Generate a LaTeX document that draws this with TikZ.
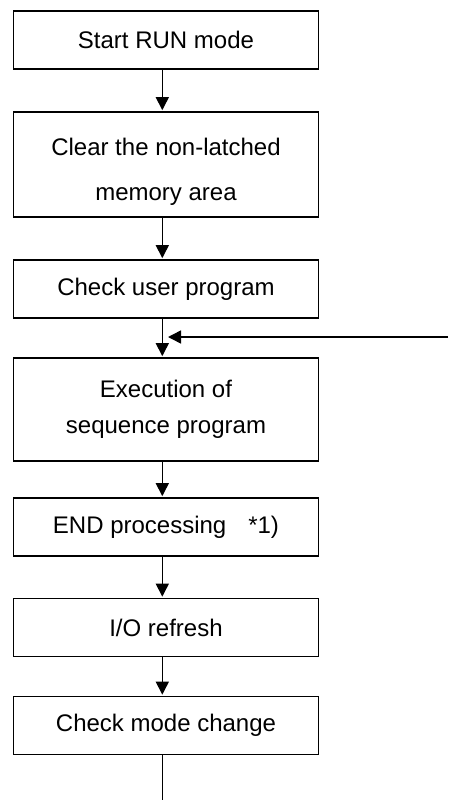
\documentclass[tikz,border=0pt]{standalone}
\usepackage{fontspec}
\setmainfont{Liberation Sans}
\usetikzlibrary{arrows.meta,calc}

\tikzset{
  stepbox/.style={draw, line width=1.7pt, minimum width=305pt, inner sep=0pt,
    align=center, font=\fontsize{24pt}{29pt}\selectfont},
  flow/.style={line width=1.5pt, -{Triangle[length=13pt,width=13pt]}, shorten >=1pt},
  plain/.style={line width=1.5pt}
}

\begin{document}
\begin{tikzpicture}[x=1pt,y=-1pt]
  \useasboundingbox (0,0) rectangle (448,800);

  % process steps
  \node[stepbox, minimum height=58pt]  (run)   at (166,40)    {Start RUN mode};
  \node[stepbox, minimum height=105pt, font=\fontsize{24pt}{45pt}\selectfont]
                                       (clear) at (166,164.5) {\rule{0pt}{31pt}Clear the non-latched\\memory area};
  \node[stepbox, minimum height=58pt]  (check) at (166,289)   {Check user program};
  \node[stepbox, minimum height=103pt, font=\fontsize{24pt}{36pt}\selectfont]
                                       (exec)  at (166,409.5) {Execution of\\sequence program};
  \node[stepbox, minimum height=58pt]  (endp)  at (166,527)   {END processing\hspace{22pt}*1)};
  \node[stepbox, minimum height=58pt]  (io)    at (166,627.5) {I/O refresh};
  \node[stepbox, minimum height=58pt]  (mode)  at (166,725.5) {Check mode change};

  % main flow (runs a little left of the box centres)
  \draw[flow] ([xshift=-3.7pt]run.south)   -- ([xshift=-3.7pt]clear.north);
  \draw[flow] ([xshift=-3.7pt]clear.south) -- ([xshift=-3.7pt]check.north);
  \draw[flow] ([xshift=-3.7pt]check.south) -- ([xshift=-3.7pt]exec.north);
  \draw[flow] ([xshift=-3.7pt]exec.south)  -- ([xshift=-3.7pt]endp.north);
  \draw[flow] ([xshift=-3.7pt]endp.south)  -- ([xshift=-3.7pt]io.north);
  \draw[flow] ([xshift=-3.7pt]io.south)    -- ([xshift=-3.7pt]mode.north);

  % loop back into the scan cycle
  \coordinate (loopin) at (448,337);
  \coordinate (join) at ([xshift=-3.7pt]check.south |- loopin);
  \draw[flow, shorten >=5.7pt] (loopin) -- (join);

  % exit line at the bottom
  \coordinate (exit) at ([xshift=-3.7pt]mode.south |- 0,800);
  \draw[plain] ([xshift=-3.7pt]mode.south) -- (exit);
\end{tikzpicture}
\end{document}
